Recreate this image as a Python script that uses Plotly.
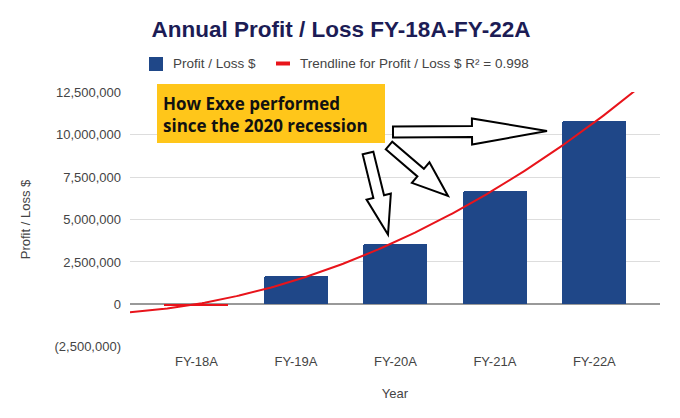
import numpy as np
import plotly.graph_objects as go

# ---- data ----
categories = ["FY-18A", "FY-19A", "FY-20A", "FY-21A", "FY-22A"]
profit_loss = [-100000, 1700000, 3580000, 6650000, 10800000]
bar_colors = ["#e8141b", "#1f4788", "#1f4788", "#1f4788", "#1f4788"]
y_tickvals = [-2500000, 0, 2500000, 5000000, 7500000, 10000000, 12500000]
y_ticktext = ["(2,500,000)", "0", "2,500,000", "5,000,000", "7,500,000", "10,000,000", "12,500,000"]
series_name = "Profit / Loss $"
trend_name = "Trendline for Profit / Loss $ R² = 0.998"
callout_text = "How Exxe performed<br>since the 2020 recession"

# ---- geometry (reference pixels) ----
W, H = 680, 418
OFF = 8  # page body margin offset
PL, PR, PT, PB = 130, 660, 92, 347  # plot area in reference pixels
X_RANGE = [-0.668, 4.66]
Y_RANGE = [-2510000, 12510000]


def px_to_paper(px, py):
    return (px - PL) / (PR - PL), (PB - py) / (PB - PT)


xs = np.arange(len(categories))
coef = np.polyfit(xs, profit_loss, 2)
xt = np.linspace(X_RANGE[0], X_RANGE[1], 200)
yt = np.polyval(coef, xt)

fig = go.Figure()
fig.add_trace(go.Bar(
    x=xs, y=profit_loss, name=series_name, width=0.643,
    marker=dict(color=bar_colors, line=dict(width=0), cornerradius=2),
    showlegend=False,
))
fig.add_trace(go.Scatter(
    x=xt, y=yt, mode="lines", name=trend_name, showlegend=False,
    line=dict(color="#e8141b", width=2),
))


def block_arrow(tail, tip, shaft_w, head_w, head_len):
    (x0, y0), (x1, y1) = tail, tip
    dx, dy = x1 - x0, y1 - y0
    L = np.hypot(dx, dy)
    ux, uy = dx / L, dy / L
    nx, ny = -uy, ux
    bx, by = x1 - ux * head_len, y1 - uy * head_len
    pts = [
        (x0 + nx * shaft_w / 2, y0 + ny * shaft_w / 2),
        (bx + nx * shaft_w / 2, by + ny * shaft_w / 2),
        (bx + nx * head_w / 2, by + ny * head_w / 2),
        (x1, y1),
        (bx - nx * head_w / 2, by - ny * head_w / 2),
        (bx - nx * shaft_w / 2, by - ny * shaft_w / 2),
        (x0 - nx * shaft_w / 2, y0 - ny * shaft_w / 2),
    ]
    pp = [px_to_paper(a, b) for a, b in pts]
    path = "M " + " L ".join(f"{a:.5f},{b:.5f}" for a, b in pp) + " Z"
    return dict(type="path", xref="paper", yref="paper", path=path,
                fillcolor="white", line=dict(color="black", width=2), layer="above")


def rect_px(x0, y0, x1, y1, color):
    a0, b0 = px_to_paper(x0, y1)
    a1, b1 = px_to_paper(x1, y0)
    return dict(type="rect", xref="paper", yref="paper", x0=a0, y0=b0, x1=a1, y1=b1,
                fillcolor=color, line=dict(width=0), layer="above")


shapes = []
# custom legend symbols
shapes.append(rect_px(149, 57, 163, 71, "#1f4788"))
shapes.append(rect_px(276, 61.5, 290, 65.5, "#e8141b"))
# callout box
shapes.append(rect_px(157, 84, 385, 143, "#FFC61A"))
shapes.append(block_arrow((393, 132), (547, 131), 11, 26, 75))
shapes.append(block_arrow((389, 145.5), (448, 196), 10, 27, 36))
shapes.append(block_arrow((368, 153), (388, 234.5), 11, 25, 39))

annotations = []
for txt, px in [(series_name, 171), (trend_name, 298)]:
    ax, ay = px_to_paper(px, 64)
    annotations.append(dict(xref="paper", yref="paper", x=ax, y=ay, xanchor="left", yanchor="middle",
                            text=txt, showarrow=False,
                            font=dict(family="Arial, Liberation Sans, sans-serif", size=13.5, color="#444444")))
tx, ty = px_to_paper(161, 114)
annotations.append(dict(
    xref="paper", yref="paper", x=tx, y=ty, xanchor="left", yanchor="middle",
    text=f"<b>{callout_text}</b>", showarrow=False, align="left",
    font=dict(family="Open Sans, Noto Sans, sans-serif", size=17, color="#111111"),
))

fig.update_layout(
    width=W, height=H,
    margin=dict(l=PL - OFF, r=W - (PR - OFF), t=PT - OFF, b=H - (PB - OFF), pad=0),
    paper_bgcolor="white", plot_bgcolor="white",
    showlegend=False,
    font=dict(family="Arial, Liberation Sans, sans-serif", size=13, color="#444444"),
    title=dict(text="<b>Annual Profit / Loss FY-18A-FY-22A</b>", xref="container",
               x=(341 - OFF) / W, xanchor="center", y=1 - (29 - OFF) / H, yanchor="middle",
               font=dict(family="Arial, Liberation Sans, sans-serif", size=22.5, color="#1c1c55")),
    xaxis=dict(range=X_RANGE, tickmode="array", tickvals=list(xs), ticktext=categories,
               showgrid=False, zeroline=False, showline=False, ticks="",
               ticklabelstandoff=5,
               title=dict(text="Year", standoff=20, font=dict(size=13, color="#444444"))),
    yaxis=dict(range=Y_RANGE, tickmode="array", tickvals=y_tickvals, ticktext=y_ticktext,
               showgrid=True, gridcolor="#dddddd", gridwidth=1,
               zeroline=True, zerolinecolor="#999999", zerolinewidth=1.5,
               showline=False, ticks="", ticklabelstandoff=8,
               title=dict(text="Profit / Loss $", standoff=20, font=dict(size=13, color="#444444"))),
    shapes=shapes, annotations=annotations,
    bargap=0,
)

fig.write_html("out.html")
